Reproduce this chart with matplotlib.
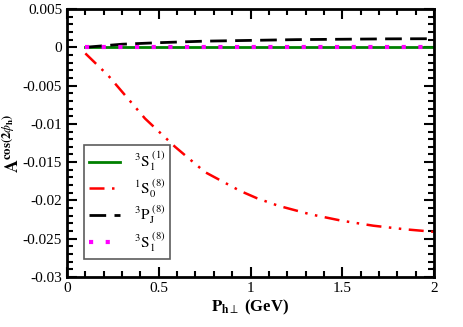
import matplotlib
matplotlib.use("Agg")
import matplotlib.pyplot as plt
from matplotlib.ticker import MultipleLocator

plt.rcParams['font.family'] = ['Liberation Serif', 'DejaVu Serif']
plt.rcParams['mathtext.fontset'] = 'stix'

# datos
x_s0 = [0.1, 0.225, 0.425, 0.589, 0.752, 0.943, 1.034, 1.152, 1.324, 1.497, 1.669, 1.842, 2.0]
y_s0 = [-0.0008, -0.0037, -0.0093, -0.0130, -0.0163, -0.01875, -0.0197, -0.0207, -0.0218,
        -0.02265, -0.0233, -0.02377, -0.0241]

x_pj = [0.1, 0.2, 0.3, 0.5, 0.75, 1.0, 1.25, 1.5, 1.75, 2.0]
y_pj = [0.0, 0.0002, 0.0004, 0.0006, 0.0008, 0.0009, 0.001, 0.00105, 0.0011, 0.00112]

x_s1 = [0.1, 2.0]
y_s1_sing = [0.0, 0.0]
y_s1_oct = [0.0, 0.0]

etiquetas = [r'$^{3}\mathrm{S}_{1}^{\ (1)}$', r'$^{1}\mathrm{S}_{0}^{\ (8)}$',
             r'$^{3}\mathrm{P}_{\mathrm{J}}^{\ (8)}$', r'$^{3}\mathrm{S}_{1}^{\ (8)}$']

fig = plt.figure(figsize=(4.63, 3.27), dpi=100)
ax = fig.add_axes([0.1447, 0.1529, 0.7927, 0.8196])

ax.plot(x_s1, y_s1_sing, color='green', lw=2, label=etiquetas[0])
ax.plot(x_s0, y_s0, color='red', lw=1.8, dashes=[6, 3, 1, 3, 1, 3], label=etiquetas[1])
ax.plot(x_pj, y_pj, color='black', lw=2, dashes=[6, 3], label=etiquetas[2])
ax.plot(x_s1, y_s1_oct, color='magenta', lw=3, dashes=[1, 3], label=etiquetas[3])

ax.set_xlim(0, 2)
ax.set_ylim(-0.03, 0.005)
ax.xaxis.set_major_locator(MultipleLocator(0.5))
ax.xaxis.set_minor_locator(MultipleLocator(0.1))
ax.yaxis.set_major_locator(MultipleLocator(0.005))
ax.yaxis.set_minor_locator(MultipleLocator(0.001))
ax.set_xticks([0, 0.5, 1, 1.5, 2], ['0', '0.5', '1', '1.5', '2'])
ax.set_yticks([0.005, 0, -0.005, -0.01, -0.015, -0.02, -0.025, -0.03],
              ['0.005', '0', '-0.005', '-0.01', '-0.015', '-0.02', '-0.025', '-0.03'])
ax.tick_params(which='both', direction='in', top=True, right=True, width=1.5, labelsize=11)
ax.tick_params(which='major', length=7)
ax.tick_params(which='minor', length=4)
for s in ax.spines.values():
    s.set_linewidth(2)

ax.set_xlabel(r'$\mathbf{P}_{\mathbf{h}\perp}$ (GeV)', fontsize=12, fontweight='bold', labelpad=2)
ax.set_ylabel(r'$\mathbf{A}^{\mathbf{cos(2}\phi_{\mathbf{h}}\mathbf{)}}$', fontsize=13, labelpad=0)

leg = ax.legend(loc='lower left', bbox_to_anchor=(0.046, 0.067), borderaxespad=0, fontsize=11,
                frameon=True, fancybox=False, edgecolor='#333333', handlelength=2.0,
                handletextpad=0.9, borderpad=0.35, labelspacing=0.25)
leg.get_frame().set_linewidth(1.2)

fig.savefig('out.png', dpi=100)
